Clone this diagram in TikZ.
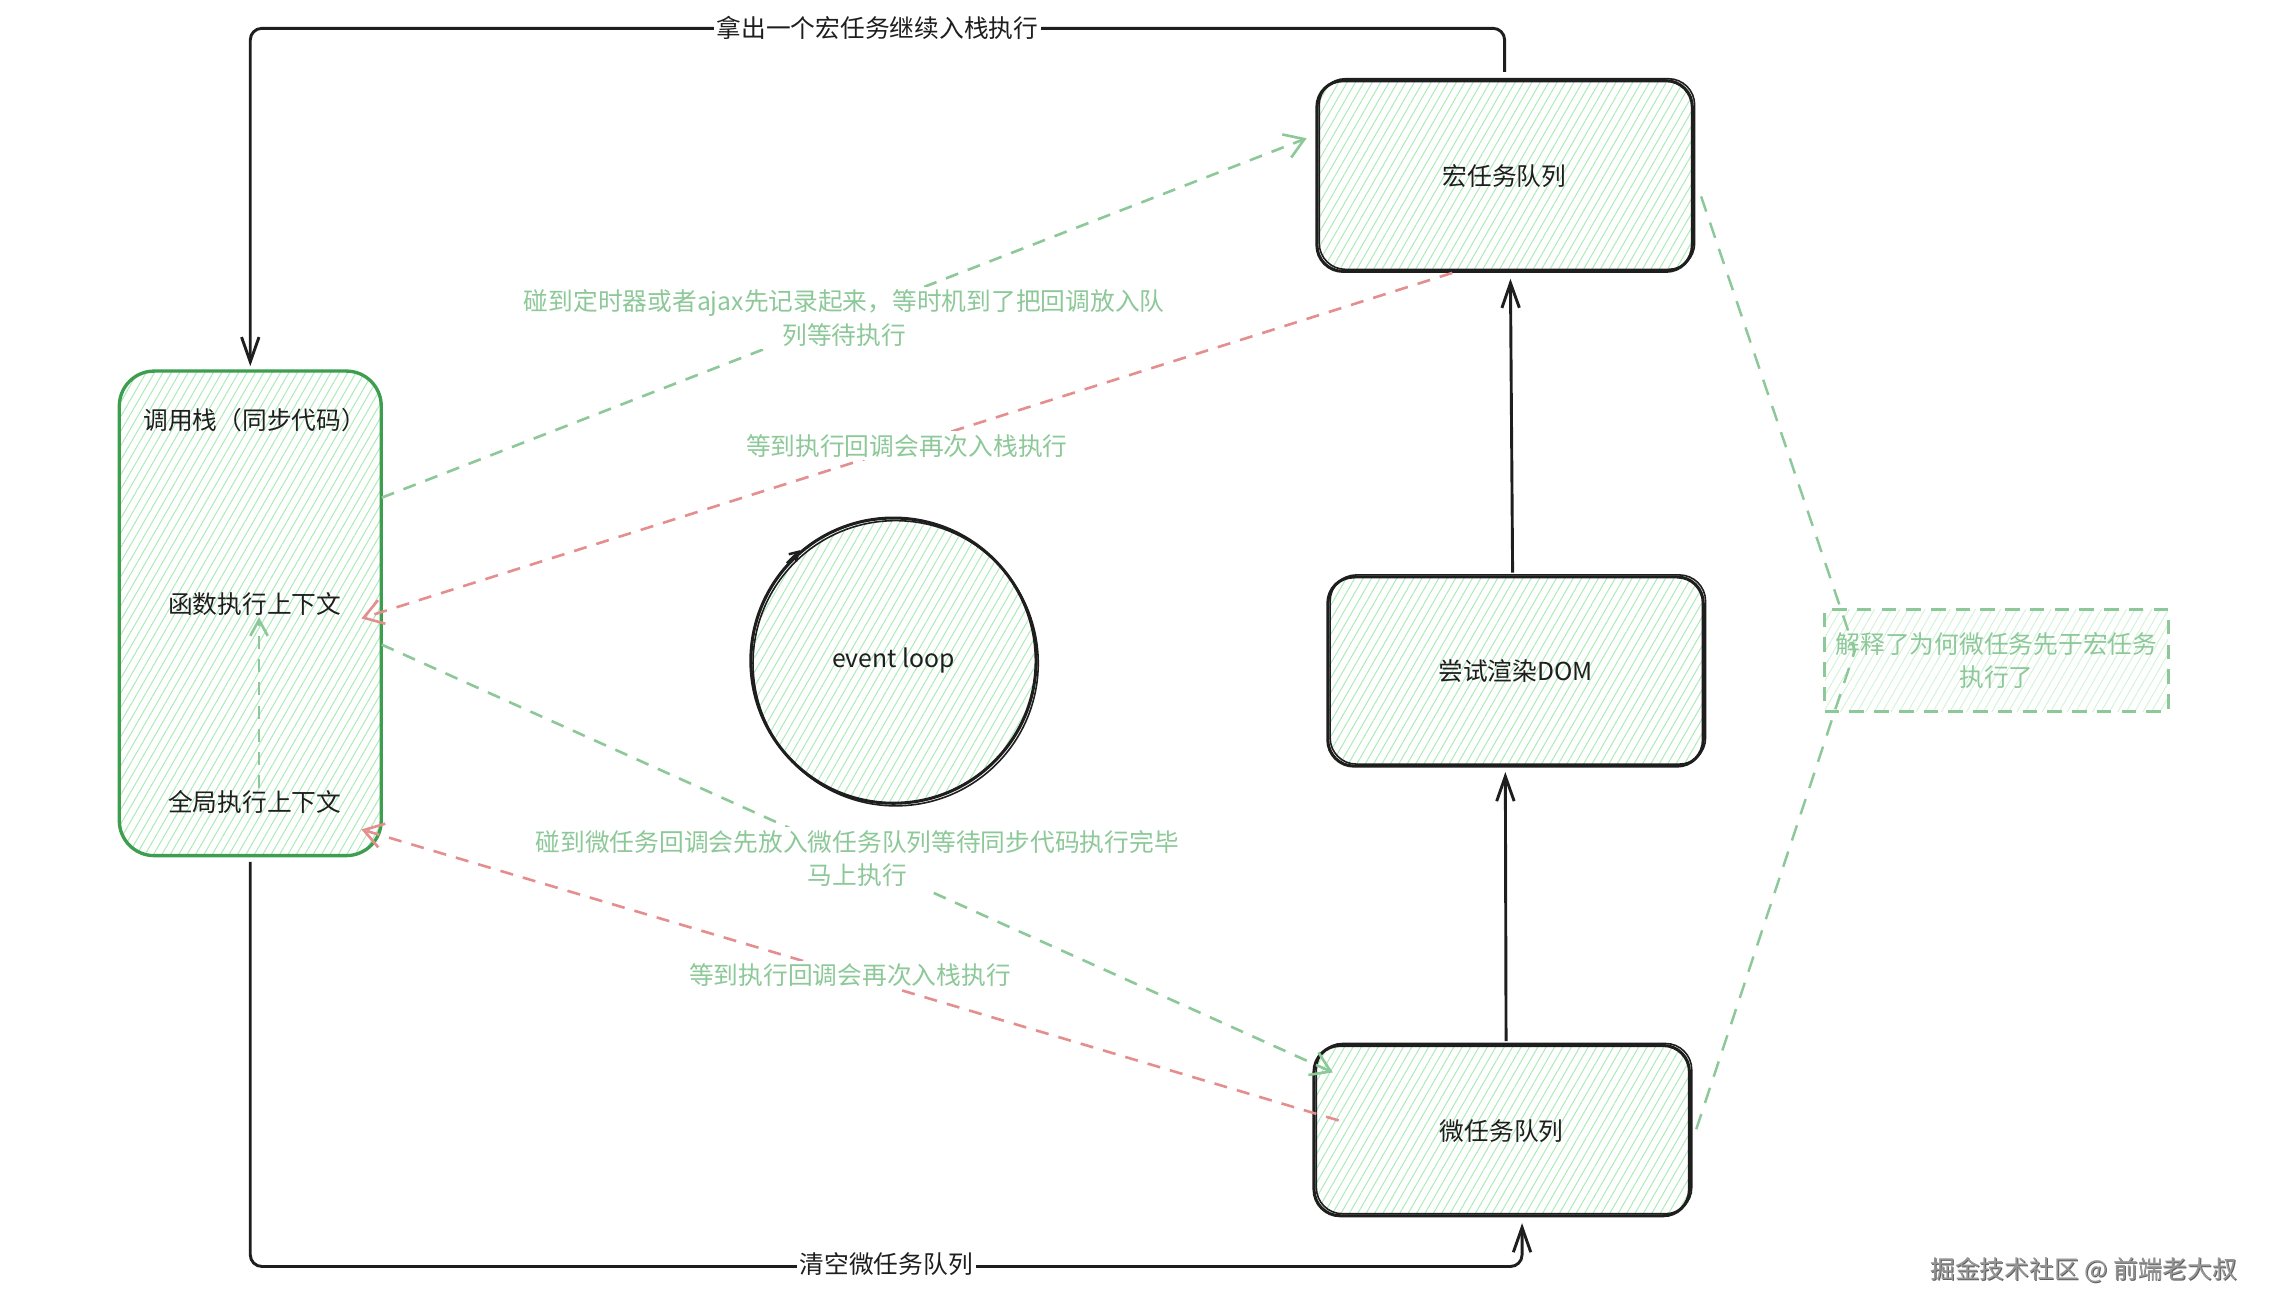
\documentclass[tikz,border=0pt]{standalone}
\usepackage{fontspec}
\setmainfont{Noto Sans CJK SC}
\usetikzlibrary{arrows.meta,patterns.meta}
\definecolor{ink}{HTML}{1E1E1E}
\definecolor{csgreen}{HTML}{3E9E50}
\definecolor{hach}{HTML}{ACEBB6}
\definecolor{hachlight}{HTML}{CDF3D3}
\definecolor{lg}{RGB}{140,200,152}
\definecolor{lr}{RGB}{228,142,142}
\definecolor{wm}{RGB}{150,150,150}
\definecolor{wmdark}{RGB}{95,95,95}
\begin{document}
\begin{tikzpicture}[x=1pt,y=-1pt,
  font=\fontsize{17}{23}\selectfont,
  hatch/.style={pattern={Lines[angle=60,distance=5pt,line width=0.7pt]},pattern color=hach},
  hatchlight/.style={pattern={Lines[angle=60,distance=5pt,line width=0.6pt]},pattern color=hachlight},
  sbox/.style={draw=ink,line width=2.1pt,rounded corners=18pt,hatch,text=ink,
    postaction={draw=ink,line width=1.1pt,transform canvas={shift={(1.6pt,1.4pt)}}}},
  csbox/.style={draw=csgreen,line width=2.3pt,rounded corners=24pt,hatch},
  blk/.style={draw=ink,line width=2pt,rounded corners=8pt,-{Straight Barb[length=17pt,width=12pt]}},
  gdash/.style={draw=lg,line width=1.8pt,dash pattern=on 9pt off 7pt,-{Straight Barb[length=13pt,width=17pt]}},
  rdash/.style={draw=lr,line width=1.8pt,dash pattern=on 9pt off 7pt,-{Straight Barb[length=13pt,width=17pt]}},
  lbl/.style={fill=white,inner sep=2pt,text=ink},
  glbl/.style={fill=white,inner sep=2pt,text=lg,align=center},
  txt/.style={text=ink,inner sep=1pt}
]
\useasboundingbox (0,0) rectangle (1560,900);

% call stack
\node[csbox,minimum width=180pt,minimum height=333pt] (cs) at (172,421.5) {};
\node[txt] (cst) at (175,289) {调用栈（同步代码）};
\node[txt] (fn) at (175,415) {函数执行上下文};
\node[txt] (gl) at (175,551) {全局执行上下文};
\draw[gdash,-{Straight Barb[length=11pt,width=12pt]}] ([xshift=3pt]gl.north) -- ([xshift=3pt]fn.south);

% queues
\node[sbox,minimum width=258pt,minimum height=131pt] (mq) at (1034,121) {宏任务队列};
\node[sbox,minimum width=258pt,minimum height=130pt] (rd) at (1041.5,461.5) {尝试渲染DOM};
\node[sbox,minimum width=258pt,minimum height=117pt] (mi) at (1032,777) {微任务队列};

% event loop
\node[circle,draw=ink,line width=2.1pt,minimum size=196pt,hatch,text=ink,
  postaction={draw=ink,line width=1.1pt,transform canvas={shift={(1.5pt,-1.8pt)}}}] (el) at (614,454) {event loop};
\draw[ink,line width=1.7pt,-{Straight Barb[length=6pt,width=7pt]}]
  ([shift={(-73.3pt,66.9pt)}]el.center) -- ([shift={(-64pt,76pt)}]el.center);

% note
\node[draw=lg,line width=1.9pt,dash pattern=on 10pt off 7pt,minimum width=236pt,minimum height=70pt,
  hatchlight,text=lg,align=center,inner sep=2pt] (note) at (1372,454) {解释了为何微任务先于宏任务\\执行了};

% solid flow arrows
\draw[blk] ([yshift=5pt]mq.north) -- ++(0,-30) -| ([yshift=3pt]cs.north);
\node[lbl] (toplbl) at (603,19) {拿出一个宏任务继续入栈执行};
\coordinate (mib) at ([xshift=14pt,yshift=-4pt]mi.south);
\draw[blk] ([yshift=-4pt]cs.south) -- ++(0,278) -| (mib);
\node[lbl] (botlbl) at (609,869) {清空微任务队列};
\draw[blk] ([xshift=3pt,yshift=2pt]mi.north) -- ([xshift=-7pt,yshift=-3pt]rd.south);
\draw[blk] ([xshift=-2pt,yshift=2pt]rd.north) -- ([xshift=4pt,yshift=-4pt]mq.south);

% dashed arrows with labels
\draw[gdash] ([yshift=79.5pt]cs.east) -- node[glbl] (l1) {碰到定时器或者ajax先记录起来，等时机到了把回调放入队\\列等待执行} ([xshift=-6pt,yshift=26pt]mq.west);
\draw[rdash] ([xshift=-36pt]mq.south) -- node[glbl] (l2) {等到执行回调会再次入栈执行} ([xshift=-14pt,yshift=-3.5pt]cs.east);
\draw[gdash] ([yshift=-21.5pt]cs.east) -- node[glbl] (l3) {碰到微任务回调会先放入微任务队列等待同步代码执行完毕\\马上执行} ([xshift=14pt,yshift=40pt]mi.west);
\draw[rdash] ([xshift=18pt,yshift=7pt]mi.west) -- node[glbl] (l4) {等到执行回调会再次入栈执行} ([xshift=-14pt,yshift=-148.5pt]cs.east);

% note connector
\draw[draw=lg,line width=1.7pt,dash pattern=on 11pt off 8pt]
  ([xshift=5pt,yshift=-14pt]mq.east) -- ([xshift=21pt,yshift=7pt]note.west) -- ([xshift=3pt,yshift=-1pt]mi.east);

% watermark
\node[text=wmdark,font=\fontsize{17}{20}\selectfont] (wm2) at (1432.6,873.6) {掘金技术社区 @ 前端老大叔};
\node[text=wm,font=\fontsize{17}{20}\selectfont] (wm1) at (1432,873) {掘金技术社区 @ 前端老大叔};
\end{tikzpicture}
\end{document}
